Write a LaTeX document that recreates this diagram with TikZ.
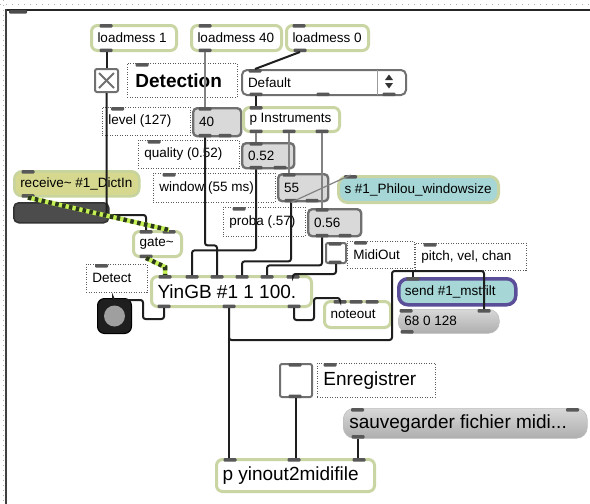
\documentclass[tikz,border=0pt]{standalone}
\usepackage{fontspec}
\setmainfont{Liberation Sans}
\usetikzlibrary{calc}
\definecolor{objgreen}{RGB}{202,213,164}
\definecolor{cmtline}{RGB}{90,90,90}
\definecolor{numfill}{RGB}{217,217,217}
\definecolor{numline}{RGB}{112,112,112}
\definecolor{recvfill}{RGB}{213,216,142}
\definecolor{recvline}{RGB}{200,212,158}
\definecolor{cyanfill}{RGB}{166,214,214}
\definecolor{sendline}{RGB}{90,78,152}
\definecolor{msgtop}{RGB}{216,216,216}
\definecolor{msgbot}{RGB}{174,174,174}
\definecolor{msgline}{RGB}{190,190,190}
\definecolor{slfill}{RGB}{76,76,76}
\definecolor{slline}{RGB}{50,50,50}
\definecolor{cordc}{RGB}{30,30,30}
\definecolor{mcordc}{RGB}{130,130,130}
\definecolor{siggreen}{RGB}{196,240,84}
\definecolor{sigdark}{RGB}{44,56,30}
\definecolor{tabcol}{RGB}{88,88,88}
\newcommand{\fsm}{\fontsize{13.5}{16}\selectfont}
\newcommand{\fbig}{\fontsize{19}{22}\selectfont}
\newcommand{\pobj}[6]{\node[#1, anchor=north west, minimum width=#4pt, minimum height=#5pt, inner sep=0pt] (#2) at (#3) {\makebox[\dimexpr#4pt-12pt\relax][l]{#6}};}
\newcommand{\ttab}[2]{\fill[tabc] ($(#1.north west)+(#2-6.5,0)$) rectangle ++(13,3.5);}
\newcommand{\btab}[2]{\fill[tabc] ($(#1.south west)+(#2-6.5,0)$) rectangle ++(13,-3.5);}
\begin{document}
\begin{tikzpicture}[x=1pt,y=-1pt,
  obj/.style={draw=objgreen, line width=3pt, fill=white, rounded corners=6pt, font=\fsm},
  cmt/.style={draw=cmtline, line width=0.8pt, dash pattern=on 1pt off 1.5pt, font=\fsm},
  num/.style={draw=numline, fill=numfill, line width=2.4pt, rounded corners=4pt, font=\fsm},
  umen/.style={draw=numline, fill=white, line width=2pt, rounded corners=5pt, font=\fsm},
  tog/.style={draw=numline, fill=white, line width=2pt, rounded corners=2pt},
  recvs/.style={draw=recvline, fill=recvfill, line width=2.5pt, rounded corners=8pt, font=\fsm},
  sends/.style={draw=objgreen, fill=cyanfill, line width=3pt, rounded corners=9pt, font=\fsm},
  sendp/.style={draw=sendline, fill=cyanfill, line width=3.5pt, rounded corners=9pt, font=\fsm},
  msgs/.style={top color=msgtop, bottom color=msgbot, draw=msgline, line width=0.6pt, rounded corners=11pt, font=\fsm},
  sld/.style={fill=slfill, draw=slline, line width=1.5pt, rounded corners=5pt},
  bng/.style={fill=black!88, draw=black, line width=1pt, rounded corners=7pt},
  ccord/.style={draw=cordc, line width=2pt, rounded corners=2.5pt},
  mcord/.style={draw=mcordc, line width=1.2pt},
  scord/.style={preaction={draw=siggreen, line width=4.5pt}, draw=sigdark, line width=4.5pt, dash pattern=on 3.5pt off 3.5pt},
  tabc/.style={fill=tabcol, rounded corners=1pt}
]
\useasboundingbox (0,0) rectangle (590,504);
\fill[white] (0,0) rectangle (590,504);
% window frame
\draw[gray!60, line width=0.9pt, dash pattern=on 1pt off 5pt] (0,4.5) -- (590,4.5);
\draw[gray!60, line width=0.9pt, dash pattern=on 1pt off 4pt] (3,0) -- (3,504);
\draw[black!85, line width=2pt] (6,9.5) -- (590,9.5);
\draw[black!75, line width=1.5pt] (6,9) -- (6,504);
\fill[black!70, rounded corners=1pt] (9,10) rectangle (27,13.5);

% objects
\pobj{obj}{lm1}{90,24}{85}{25}{loadmess 1}
\pobj{obj}{lm40}{190,24}{90}{25}{loadmess 40}
\pobj{obj}{lm0}{285,24}{82}{25}{loadmess 0}
\node[tog, anchor=north west, minimum width=23pt, minimum height=23pt, inner sep=0pt] (tgl) at (94,68) {};
\draw[numline, line width=1.8pt] ($(tgl.north west)+(5,5)$) -- ($(tgl.south east)+(-5,-5)$);
\draw[numline, line width=1.8pt] ($(tgl.south west)+(5,-5)$) -- ($(tgl.north east)+(-5,5)$);
\pobj{cmt,font=\fbig\bfseries}{detc}{127,63}{110}{34}{\hspace{2pt}Detection}
\pobj{umen}{umenu}{241,69}{164}{25}{Default}
\draw[numline!70, line width=1pt] ($(umenu.north west)+(136,1)$) -- ($(umenu.south west)+(136,-1)$);
\fill[black!80] ($(umenu.north west)+(144,11)$) -- ($(umenu.north west)+(152,11)$) -- ($(umenu.north west)+(148,5.5)$) -- cycle;
\fill[black!80] ($(umenu.north west)+(144,14)$) -- ($(umenu.north west)+(152,14)$) -- ($(umenu.north west)+(148,19.5)$) -- cycle;
\pobj{cmt}{lvl}{102,107}{88}{28}{level (127)}
\pobj{num}{n40}{192,107}{48}{28}{40}
\pobj{obj}{pins}{242,106}{96}{24}{p Instruments}
\pobj{cmt}{qual}{138,140}{101}{28}{quality (0.52)}
\pobj{num}{n52}{241,142}{52}{25}{0.52}
\pobj{recvs}{recv}{13,170}{125}{25}{receive\textasciitilde\ \#1\_DictIn}
\node[sld, anchor=north west, minimum width=95pt, minimum height=20pt, inner sep=0pt] (slider) at (13,202) {};
\pobj{cmt}{win}{153,173}{122}{29}{window (55 ms)}
\pobj{num}{n55}{277,173}{50}{27}{55}
\pobj{sends}{sphil}{337,175}{160}{26}{s \#1\_Philou\_windowsize}
\pobj{cmt}{proba}{223,207}{82}{29}{proba (.57)}
\pobj{num}{n56}{307,208}{53}{27}{0.56}
\pobj{obj}{gate}{132,230}{48}{25}{gate\textasciitilde}
\pobj{cmt}{detect}{86,264}{61}{28}{Detect}
\pobj{obj,font=\fbig}{yin}{150,275}{160}{30}{YinGB \#1 1 100.}
\node[bng, anchor=north west, minimum width=34pt, minimum height=35pt, inner sep=0pt] (bang) at (97,298) {};
\fill[gray!75] (bang.center) circle (10.5pt);
\node[tog, anchor=north west, minimum width=20pt, minimum height=20pt, inner sep=0pt] (mtgl) at (325,242) {};
\pobj{cmt}{midic}{347,241}{67}{27}{MidiOut}
\pobj{cmt}{pitchc}{415,243}{111}{27}{pitch, vel, chan}
\pobj{sendp}{send}{397,277}{117}{26}{send \#1\_mstfilt}
\pobj{msgs}{msg68}{398,309}{101}{24}{68 0 128}
\pobj{obj}{noteout}{323,300}{66}{26}{noteout}
\node[tog, anchor=north west, minimum width=32pt, minimum height=33pt, inner sep=0pt] (etgl) at (279,363) {};
\pobj{cmt,font=\fbig}{enrc}{317,363}{118}{34}{Enregistrer}
\pobj{msgs,font=\fbig}{sauv}{343,408}{244}{30}{sauvegarder fichier midi...}
\pobj{obj,font=\fbig}{pyin}{215,458}{158}{32}{p yinout2midifile}

% inlet / outlet tabs
\ttab{lm1}{16}\btab{lm1}{16}
\ttab{lm40}{15}\btab{lm40}{15}
\ttab{lm0}{14}\btab{lm0}{15}
\ttab{detc}{15}
\ttab{umenu}{14}\btab{umenu}{15}\btab{umenu}{82}\btab{umenu}{148}
\ttab{lvl}{15.5}
\ttab{n40}{13}\btab{n40}{13}\btab{n40}{33}
\ttab{pins}{14}\btab{pins}{14}\btab{pins}{47}\btab{pins}{80}
\ttab{qual}{16}
\ttab{n52}{15}\btab{n52}{15}\btab{n52}{39}
\ttab{recv}{15}\btab{recv}{15}
\ttab{win}{16}
\ttab{n55}{12}\btab{n55}{14}\btab{n55}{35}
\ttab{sphil}{13.5}
\ttab{proba}{16}
\ttab{n56}{15}\btab{n56}{15}\btab{n56}{38}
\ttab{gate}{14}\ttab{gate}{37}\btab{gate}{14}
\ttab{detect}{15.5}
\ttab{yin}{15}\ttab{yin}{42}\ttab{yin}{67}\ttab{yin}{92}\ttab{yin}{117}\ttab{yin}{143}
\btab{yin}{14}\btab{yin}{79}\btab{yin}{144}
\ttab{mtgl}{10}\btab{mtgl}{10}
\ttab{midic}{13.5}
\ttab{pitchc}{15}
\ttab{send}{16}
\ttab{msg68}{8}\ttab{msg68}{86}\btab{msg68}{9}
\ttab{noteout}{17}\ttab{noteout}{33}\ttab{noteout}{49}
\ttab{etgl}{16}\btab{etgl}{16}
\ttab{enrc}{13}
\ttab{sauv}{14.5}\ttab{sauv}{229.5}\btab{sauv}{15}
\ttab{pyin}{15}\ttab{pyin}{79}\ttab{pyin}{144}

% ports
\coordinate (lm40o) at ($(lm40.south west)+(15,0)$);
\coordinate (lm0o) at ($(lm0.south west)+(15,0)$);
\coordinate (n40i) at ($(n40.north west)+(13,0)$);
\coordinate (n40o) at ($(n40.south west)+(13,0)$);
\coordinate (umi) at ($(umenu.north west)+(14,0)$);
\coordinate (umo) at ($(umenu.south west)+(15,0)$);
\coordinate (pinsi) at ($(pins.north west)+(14,0)$);
\coordinate (pinso1) at ($(pins.south west)+(14,0)$);
\coordinate (pinso2) at ($(pins.south west)+(47,0)$);
\coordinate (pinso3) at ($(pins.south west)+(80,0)$);
\coordinate (n52i) at ($(n52.north west)+(15,0)$);
\coordinate (n52o) at ($(n52.south west)+(15,0)$);
\coordinate (n55i) at ($(n55.north west)+(12,0)$);
\coordinate (n55o) at ($(n55.south west)+(14,0)$);
\coordinate (n56i) at ($(n56.north west)+(15,0)$);
\coordinate (n56o) at ($(n56.south west)+(15,0)$);
\coordinate (sphili) at ($(sphil.north west)+(13.5,0)$);
\coordinate (recvo) at ($(recv.south west)+(15,0)$);
\coordinate (gatei1) at ($(gate.north west)+(14,0)$);
\coordinate (gatei2) at ($(gate.north west)+(37,0)$);
\coordinate (gateo) at ($(gate.south west)+(14,0)$);
\coordinate (yini1) at ($(yin.north west)+(15,0)$);
\coordinate (yini2) at ($(yin.north west)+(42,0)$);
\coordinate (yini3) at ($(yin.north west)+(67,0)$);
\coordinate (yini4) at ($(yin.north west)+(92,0)$);
\coordinate (yini5) at ($(yin.north west)+(117,0)$);
\coordinate (yini6) at ($(yin.north west)+(143,0)$);
\coordinate (yino1) at ($(yin.south west)+(14,0)$);
\coordinate (yino2) at ($(yin.south west)+(79,0)$);
\coordinate (yino3) at ($(yin.south west)+(144,0)$);
\coordinate (bangi) at ($(bang.north west)+(16,0)$);
\coordinate (noti) at ($(noteout.north west)+(17,0)$);
\coordinate (sendi) at ($(send.north west)+(16,0)$);
\coordinate (sendc) at ($(send.north west)+(-5,-6)$);
\coordinate (msgi2) at ($(msg68.north west)+(86,0)$);
\coordinate (sauvo) at ($(sauv.south west)+(15,0)$);

% connectors
\draw[ccord] (tgl.north |- lm1.south) -- (tgl.north);
\draw[ccord] (tgl.south) -- ++(0,122) -| (gatei1);
\draw[mcord] (lm40o) -- (n40i);
\draw[ccord] (n40o) -- ++(0,108) -| (yini3);
\draw[ccord] (lm0o) -- (umi);
\draw[ccord] (umo) -- (pinsi);
\draw[mcord] (pinso1) -- (n52i);
\draw[mcord] (pinso2) -- (n55i);
\draw[mcord] (pinso3) -- (n56i);
\draw[ccord] (n52o) -- ++(0,81) -| (yini2);
\draw[ccord] (n55o) -- ++(0,59) -| (yini4);
\draw[mcord] (n55o) -- (sphili);
\draw[ccord] (n56o) -- ++(0,28) -| (yini5);
\draw[ccord] (mtgl.south) -- ++(0,10) -| (yini6);
\draw[scord] (recvo) -- (gatei2);
\draw[scord] (gateo) -- ($(yini1)+(0,-8)$) -- (yini1);
\draw[ccord] (yino1) -- ++(0,11) -- ++(-21,0) -- ++(0,-19) -| (bangi);
\draw[ccord] (yino2) -- (yino2 |- pyin.north);
\draw[ccord] (yino2) -- ++(0,32) -| (sendc) -| (msgi2);
\draw[ccord] (sendi |- sendc) -- (sendi);
\draw[ccord] (yino3) -- ++(0,12) -- ++(20,0) -- ++(0,-22) -| (noti);
\draw[ccord] (etgl.south) -- (etgl.south |- pyin.north);
\draw[ccord] (sauvo) -- (sauvo |- pyin.north);
\end{tikzpicture}
\end{document}
